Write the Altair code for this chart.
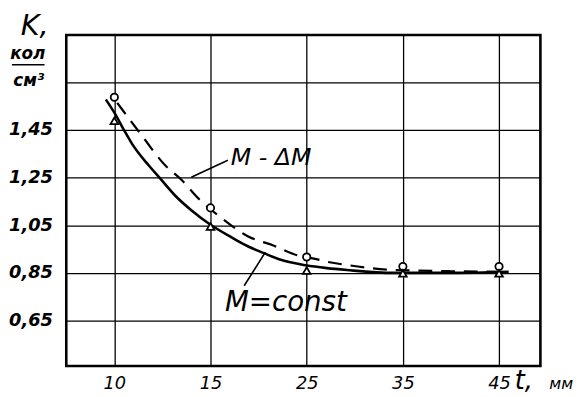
import altair as alt
import pandas as pd
import json

# ---- data ----
categories = ["10", "15", "25", "35", "45"]
cat_index = [0, 1, 2, 3, 4]
circle_vals = [1.588, 1.123, 0.917, 0.877, 0.877]      # M - dM (open circles)
triangle_vals = [1.489, 1.045, 0.86, 0.848, 0.848]     # M = const (open triangles)

solid_x = [-0.088, 0.0, 0.1, 0.184, 0.356, 0.469, 0.631, 0.80, 1.0, 1.215, 1.387,
           1.56, 1.73, 1.99, 2.21, 2.42, 2.9, 3.5, 4.1]
solid_y = [1.578, 1.523, 1.45, 1.392, 1.302, 1.25, 1.175, 1.113, 1.052, 1.0, 0.962,
           0.932, 0.905, 0.882, 0.87, 0.862, 0.85, 0.85, 0.855]

dashed_x = [0.03, 0.184, 0.287, 0.528, 0.70, 0.87, 1.09, 1.387, 1.66, 1.90, 2.075,
            2.21, 2.42, 2.83, 3.1, 3.5, 4.1]
dashed_y = [1.564, 1.481, 1.426, 1.302, 1.24, 1.164, 1.088, 1.004, 0.964, 0.924, 0.91,
            0.897, 0.883, 0.864, 0.86, 0.857, 0.854]

y_grid = [0.65, 0.85, 1.05, 1.25, 1.45, 1.65]

FONT = "DejaVu Sans"

xscale = alt.Scale(domain=[-0.5, 4.43], nice=False, zero=False)
yscale = alt.Scale(domain=[0.459, 1.849], nice=False, zero=False)

label_expr_x = json.dumps(categories).replace('"', "'") + "[datum.value]"

X = alt.X("i:Q", scale=xscale, title=None,
          axis=alt.Axis(values=cat_index, labelExpr=label_expr_x, grid=True,
                        gridColor="black", gridWidth=1.3, gridOpacity=1,
                        ticks=False, domain=False, labelFont=FONT, labelFontSize=18,
                        labelFontStyle="italic", labelColor="black", labelPadding=9))
Y = alt.Y("v:Q", scale=yscale, title=None,
          axis=alt.Axis(values=y_grid,
                        labelExpr="datum.value > 1.5 ? '' : replace(format(datum.value, '.2f'), '.', ',')",
                        grid=True, gridColor="black", gridWidth=1.3, gridOpacity=1,
                        ticks=False, domain=False, labelFont=FONT, labelFontSize=18,
                        labelFontStyle="italic", labelFontWeight="bold",
                        labelColor="black", labelPadding=14))

solid_df = pd.DataFrame({"i": solid_x, "v": solid_y})
dashed_df = pd.DataFrame({"i": dashed_x, "v": dashed_y})
circ_df = pd.DataFrame({"i": cat_index, "v": circle_vals})
tri_df = pd.DataFrame({"i": cat_index, "v": triangle_vals})

solid = alt.Chart(solid_df).mark_line(color="black", strokeWidth=2.6, interpolate="monotone").encode(x=X, y=Y)
dashed = alt.Chart(dashed_df).mark_line(color="black", strokeWidth=2.2, strokeDash=[14, 9],
                                        interpolate="monotone").encode(x=X, y=Y)
circles = alt.Chart(circ_df).mark_point(shape="circle", size=55, filled=True, fill="white",
                                        stroke="black", strokeWidth=1.8, opacity=1).encode(x=X, y=Y)
tris = alt.Chart(tri_df).mark_point(shape="triangle-up", size=60, filled=True, fill="white",
                                    stroke="black", strokeWidth=1.8, opacity=1).encode(x=X, y=Y)

# annotation leader lines (data coordinates)
leader_df = pd.DataFrame({"i": [0.80, 1.35], "v": [1.252, 0.796],
                          "i2": [1.18, 1.57], "v2": [1.323, 0.937]})
leaders = alt.Chart(leader_df).mark_rule(color="black", strokeWidth=1.6).encode(
    x=X, y=Y, x2="i2:Q", y2="v2:Q")

ann_df = pd.DataFrame({"i": [1.21, 1.15], "v": [1.302, 0.692], "t": ["M - ΔM", "M=const"]})
ann1 = alt.Chart(ann_df.iloc[[0]]).mark_text(font=FONT, fontStyle="italic", fontSize=24,
                                              align="left", baseline="alphabetic",
                                              color="black").encode(x=X, y=Y, text="t:N")
ann2 = alt.Chart(ann_df.iloc[[1]]).mark_text(font=FONT, fontStyle="italic", fontSize=28,
                                              align="left", baseline="alphabetic",
                                              color="black").encode(x=X, y=Y, text="t:N")

# axis titles placed around the frame
def ptext(txt, px, py, size, weight="normal", align="center"):
    return alt.Chart(pd.DataFrame({"t": [txt]})).mark_text(
        font=FONT, fontStyle="italic", fontSize=size, fontWeight=weight, align=align,
        baseline="alphabetic", color="black").encode(
        x=alt.value(px), y=alt.value(py), text="t:N")

k_title = ptext("K,", -32, 0, 29)
kol = ptext("кол", -39, 24, 17, "bold")
cm3 = ptext("см³", -38, 52, 17, "bold")
frac = alt.Chart(pd.DataFrame({"a": [0]})).mark_rule(color="black", strokeWidth=1.6).encode(
    x=alt.value(-55), x2=alt.value(-22), y=alt.value(30))
t_title = ptext("t,", 454, 358, 26, align="left")
mm_title = ptext("мм", 489, 358, 16, align="left")

chart = alt.layer(solid, dashed, circles, tris, leaders, ann1, ann2,
                  k_title, kol, cm3, frac, t_title, mm_title).properties(
    width=480, height=335,
    autosize=alt.AutoSizeParams(type="none"),
    padding={"left": 59, "top": 25, "right": 33, "bottom": 28},
    background="white",
).configure_view(stroke="black", strokeWidth=2.6)

chart.save("out.html", embed_options={"renderer": "svg", "actions": False})
